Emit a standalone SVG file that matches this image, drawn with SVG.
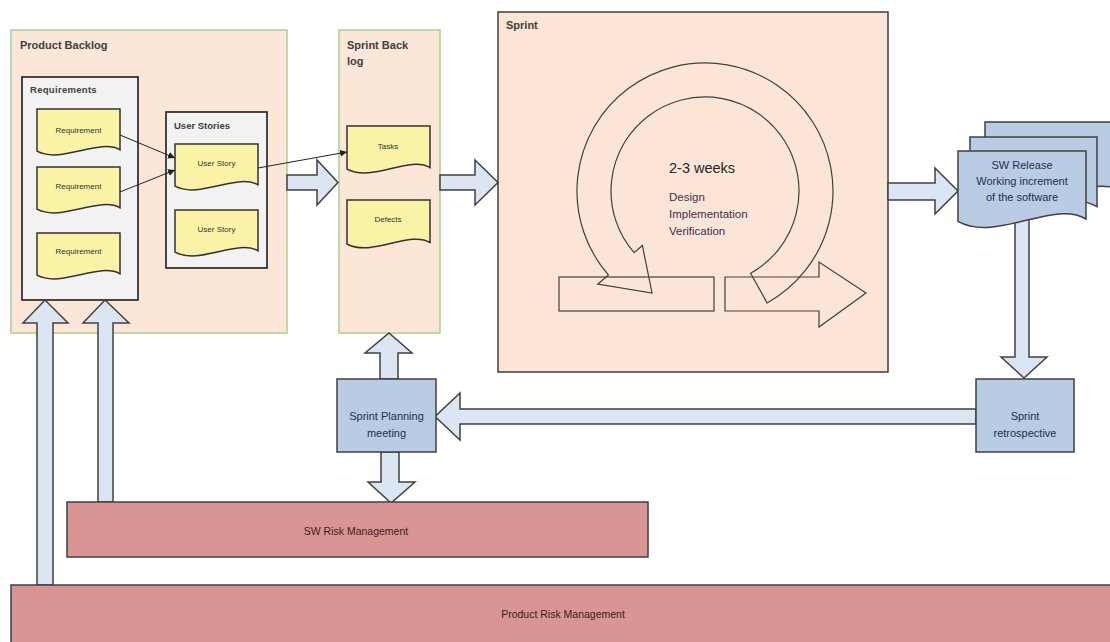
<svg xmlns="http://www.w3.org/2000/svg" width="1110" height="642" viewBox="0 0 1110 642">
<defs>
<style>
text{font-family:"Liberation Sans",Arial,sans-serif;}
.backlog{fill:#fce6d8;stroke:#a9d18e;stroke-width:1.5;}
.inner{fill:#f2f2f2;stroke:#333;stroke-width:1.8;}
.doc{fill:#faf3a6;stroke:#333;stroke-width:1.5;}
.blue{fill:#b9cce4;stroke:#404040;stroke-width:1.5;}
.risk{fill:#d99594;stroke:#404040;stroke-width:1.5;}
.barrow{fill:#dce6f2;stroke:#404040;stroke-width:1.5;stroke-linejoin:miter;}
.ring{fill:none;stroke:#404040;stroke-width:1.2;}
.title{font-size:11px;font-weight:bold;fill:#404040;}
.sub{font-size:9.5px;font-weight:bold;fill:#404040;}
.small{font-size:8px;fill:#333;text-anchor:middle;}
.lbl{font-size:11px;fill:#1f2f4f;text-anchor:middle;}
.risklbl{font-size:10.5px;fill:#3a2020;text-anchor:middle;}
.line{stroke:#222;stroke-width:1;fill:none;marker-end:url(#ah);}
</style>
<marker id="ah" viewBox="0 0 10 10" refX="10" refY="5" markerWidth="7" markerHeight="7" orient="auto" markerUnits="userSpaceOnUse"><path d="M0,0 L10,5 L0,10 Z" fill="#222"/></marker>
</defs>
<rect width="1110" height="642" fill="#fff"/>

<g id="product-backlog">
<rect class="backlog" x="11" y="30" width="276" height="303"/>
<text class="title" x="20" y="49">Product Backlog</text>
</g>
<g id="requirements">
<rect class="inner" x="22" y="77" width="116" height="223"/>
<text class="sub" x="30" y="93" letter-spacing="0.3">Requirements</text>
</g>
<g id="req1"><path class="doc" d="M37,109 H120 V149.8 C99.25,137.8 61.9,164.2 37,151.2 Z"/><text class="small" x="78.5" y="133">Requirement</text></g>
<g id="req2"><path class="doc" d="M37,167 H120 V207.8 C99.25,195.8 61.9,222.2 37,209.2 Z"/><text class="small" x="78.5" y="189">Requirement</text></g>
<g id="req3"><path class="doc" d="M37,233 H120 V273.8 C99.25,261.8 61.9,288.2 37,275.2 Z"/><text class="small" x="78.5" y="254">Requirement</text></g>
<g id="user-stories">
<rect class="inner" x="166" y="112" width="101" height="156"/>
<text class="sub" x="174" y="129">User Stories</text>
</g>
<g id="us1"><path class="doc" d="M175,144 H258 V184.8 C237.25,172.8 199.9,199.2 175,186.2 Z"/><text class="small" x="216.5" y="166">User Story</text></g>
<g id="us2"><path class="doc" d="M175,210 H258 V250.8 C237.25,238.8 199.9,265.2 175,252.2 Z"/><text class="small" x="216.5" y="232">User Story</text></g>

<g id="sprint-backlog">
<rect class="backlog" x="339" y="30" width="101" height="303"/>
<text class="title" x="347" y="49">Sprint Back</text>
<text class="title" x="347" y="65">log</text>
</g>
<g id="tasks"><path class="doc" d="M347,126 H430 V167.6 C409.25,155.4 371.9,182.4 347,169.1 Z"/><text class="small" x="388" y="149">Tasks</text></g>
<g id="defects"><path class="doc" d="M347,200 H430 V242.5 C409.25,230 371.9,257.5 347,244 Z"/><text class="small" x="388" y="222">Defects</text></g>

<g id="sprint">
<rect x="498" y="12" width="390" height="360" fill="#fce4d6" stroke="#404040" stroke-width="1.5"/>
<text class="title" x="506" y="29">Sprint</text>
<rect class="ring" x="559" y="277" width="155" height="34"/>
<path class="ring" d="M725,277 H819 V262 L866,293 L819,327 V311 H725 Z"/>
<path class="ring" d="M767.1,302.9 A128,128 0 1 0 608.4,275 L597.8,284.2 L652,293 L642.4,245.5 L634.1,252.7 A94,94 0 1 1 750.6,273.2 Z"/>
<text x="669" y="173" font-size="14.5" fill="#262626">2-3 weeks</text>
<text x="669" y="201" font-size="11.5" fill="#3f3050">Design</text>
<text x="669" y="218" font-size="11.5" fill="#3f3050">Implementation</text>
<text x="669" y="235" font-size="11.5" fill="#3f3050">Verification</text>
</g>

<g id="connectors">
<path class="barrow" d="M287,175 H317 V160 L338,182.5 L317,205 V190 H287 Z"/>
<path class="barrow" d="M440,175 H475 V160 L498,182.5 L475,205 V190 H440 Z"/>
<path class="barrow" d="M888,183 H935 V168 L958,191 L935,214 V200 H888 Z"/>
<path class="barrow" d="M1015,215 V357 H1001 L1024,378 L1047,357 H1029 V215 Z"/>
<path class="barrow" d="M976,409 H460 V393 L435,416.5 L460,440 V424 H976 Z"/>
<path class="barrow" d="M380,379 V353 H365 L389,333 L412,353 H398 V379 Z"/>
<path class="barrow" d="M381,452 V482 H368 L391,503 L415,482 H399 V452 Z"/>
<path class="barrow" d="M37,585 V323 H23 L45,300 L68,323 H53 V585 Z"/>
<path class="barrow" d="M98,502 V323 H83 L105,300 L129,323 H113 V502 Z"/>
<line class="line" x1="120" y1="135" x2="175" y2="158"/>
<line class="line" x1="120" y1="192" x2="175" y2="170"/>
<line class="line" x1="258" y1="168" x2="347" y2="152"/>
</g>

<g id="sw-release">
<path class="blue" d="M985,122 H1125 V191.7 C1090,171.2 1027,216.3 985,194.2 Z"/>
<path class="blue" d="M970,137 H1097 V206.7 C1065.25,186.2 1008.1,231.3 970,209.2 Z"/>
<path class="blue" d="M958,151 H1086 V219 C1054,199 996.4,243 958,221.4 Z"/>
<text class="lbl" x="1022" y="169">SW Release</text>
<text class="lbl" x="1022" y="185">Working increment</text>
<text class="lbl" x="1022" y="201">of the software</text>
</g>

<g id="sprint-retrospective">
<rect class="blue" x="976" y="379" width="98" height="73"/>
<text class="lbl" x="1025" y="420" font-size="10.5">Sprint</text>
<text class="lbl" x="1025" y="437" font-size="10.5">retrospective</text>
</g>

<g id="sprint-planning">
<rect class="blue" x="337" y="379" width="99" height="73"/>
<text class="lbl" x="386.5" y="420" font-size="10.5">Sprint Planning</text>
<text class="lbl" x="386.5" y="437" font-size="10.5">meeting</text>
</g>

<g id="sw-risk">
<rect class="risk" x="67" y="502" width="581" height="55"/>
<text class="risklbl" x="356" y="535">SW Risk Management</text>
</g>

<g id="product-risk">
<rect class="risk" x="11" y="585" width="1110" height="70"/>
<text class="risklbl" x="563" y="618">Product Risk Management</text>
</g>
</svg>
